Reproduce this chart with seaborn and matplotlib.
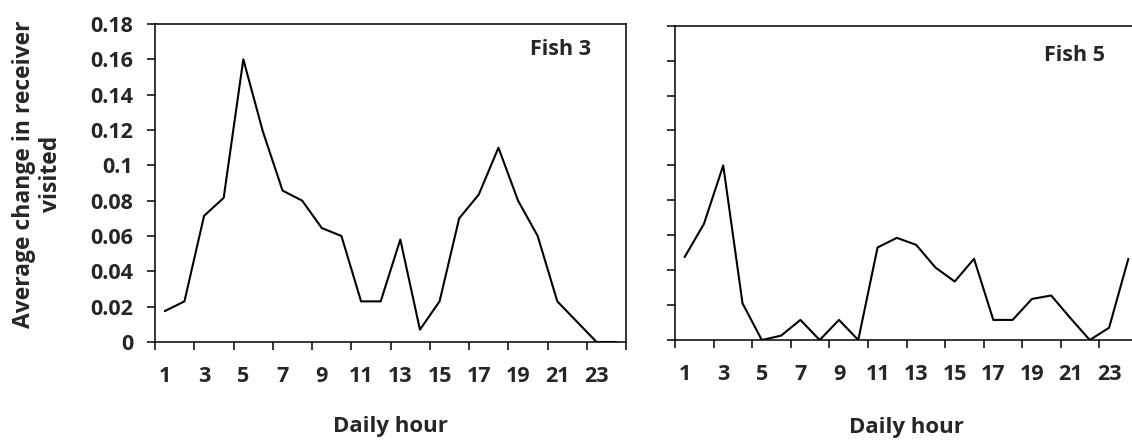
import matplotlib
matplotlib.use("Agg")
import matplotlib.pyplot as plt
import seaborn as sns
import pandas as pd
import numpy as np

# Hourly averages (hours 1-24) of the change in receiver visited
hours = list(range(1, 25))
fish3 = [0.0175, 0.023, 0.0714, 0.0816, 0.16, 0.119, 0.0857, 0.080,
         0.0645, 0.060, 0.023, 0.023, 0.058, 0.007, 0.023, 0.070,
         0.0835, 0.110, 0.080, 0.060, 0.023, 0.0115, 0.0, 0.0]
fish5 = [0.0475, 0.0665, 0.100, 0.021, 0.0, 0.0025, 0.0115, 0.0,
         0.0115, 0.0, 0.053, 0.0585, 0.0545, 0.0415, 0.0335, 0.0465,
         0.0115, 0.0115, 0.0235, 0.0255, 0.0125, 0.0, 0.007, 0.0465]
hour_labels = [str(h) for h in range(1, 24, 2)]
y_ticks = [0, 0.02, 0.04, 0.06, 0.08, 0.1, 0.12, 0.14, 0.16, 0.18]
y_tick_labels = ["0", "0.02", "0.04", "0.06", "0.08", "0.1", "0.12",
                 "0.14", "0.16", "0.18"]

df = pd.DataFrame({"hour": hours * 2,
                   "value": fish3 + fish5,
                   "fish": ["Fish 3"] * 24 + ["Fish 5"] * 24})

sns.set_style("white")
plt.rcParams["font.family"] = ["Open Sans", "DejaVu Sans"]
plt.rcParams["font.weight"] = "bold"

TICK_FS = 15.5
W = "bold"

fig = plt.figure(figsize=(11.32, 4.4), dpi=100)
ax1 = fig.add_axes([155 / 1132, 1 - 342 / 440, 471 / 1132, 318 / 440])
ax2 = fig.add_axes([675 / 1132, 1 - 340 / 440, 463 / 1132, 314.3 / 440])

for ax, name in [(ax1, "Fish 3"), (ax2, "Fish 5")]:
    sub = df[df["fish"] == name]
    sns.lineplot(data=sub, x="hour", y="value", ax=ax, color="black",
                 linewidth=1.5, legend=False)
    ax.set_xlim(0.5, 24.5)
    ax.set_ylim(0, 0.18)
    # tick marks sit between category pairs, labels sit on odd hours
    ax.set_xticks(np.arange(0.5, 25, 2))
    ax.set_xticklabels([])
    ax.set_xticks(range(1, 24, 2), minor=True)
    ax.set_xticklabels(hour_labels, minor=True, fontsize=TICK_FS,
                       fontweight=W)
    ax.tick_params(axis="x", which="major", direction="out", length=5.5,
                   width=1.1, color="black", bottom=True)
    ax.tick_params(axis="x", which="minor", length=0, pad=17)
    ax.set_yticks(y_ticks)
    ax.tick_params(axis="y", direction="out", length=5.8, width=1.1,
                   color="black", left=True, pad=10)
    for s in ax.spines.values():
        s.set_visible(True)
        s.set_color("black")
        s.set_linewidth(1.1)
    ax.set_xlabel("Daily hour", fontsize=16, fontweight=W,
                  labelpad=21 if name == "Fish 3" else 23)
    ax.set_ylabel("")
    ax.text(0.862, 0.92 if name == "Fish 3" else 0.905, name,
            transform=ax.transAxes, ha="center", va="center",
            fontsize=TICK_FS, fontweight=W)

ax1.set_yticklabels(y_tick_labels, fontsize=TICK_FS, fontweight=W)
ax2.set_yticklabels([])
ax1.set_ylabel("Average change in receiver\nvisited", fontsize=16.5,
               fontweight=W, linespacing=1.2)
ax1.yaxis.set_label_coords(-0.195, 0.528)

fig.savefig("out.png", dpi=100, facecolor="white")
